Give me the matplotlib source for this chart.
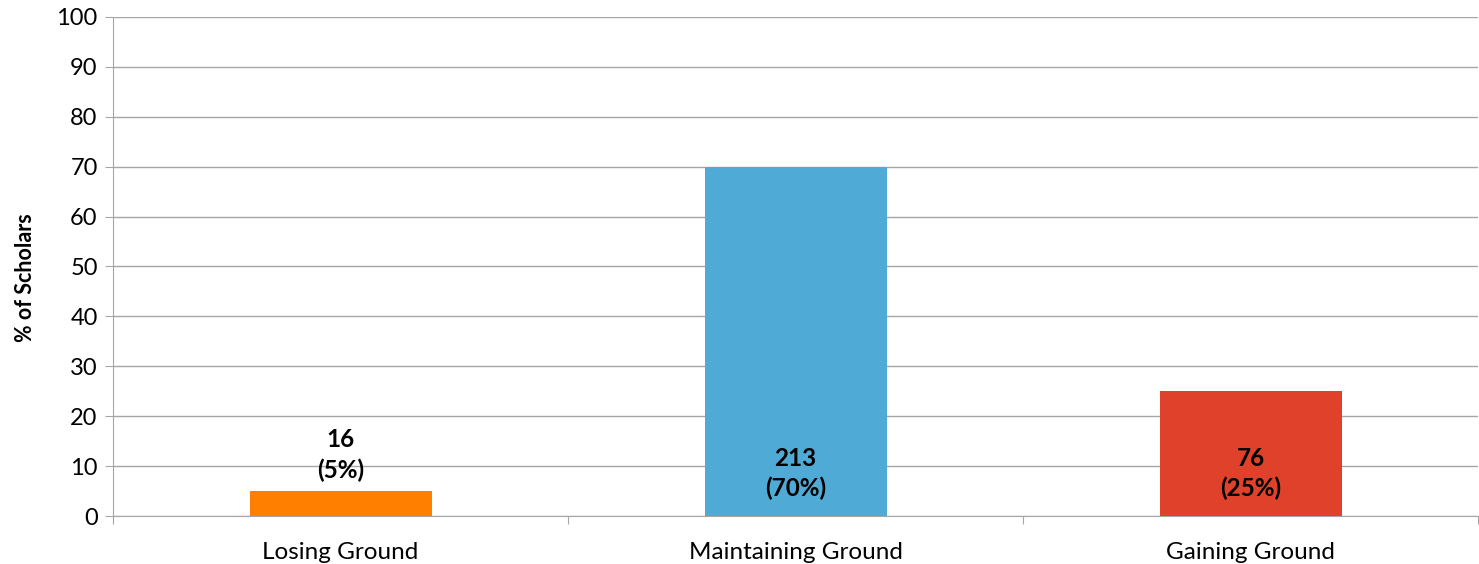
import matplotlib.pyplot as plt

categories = ["Losing Ground", "Maintaining Ground", "Gaining Ground"]
percent = [5, 70, 25]
counts = [16, 213, 76]
bar_colors = ["#FF8000", "#4FAAD6", "#E0412A"]
# where the number labels sit (data units, middle of the two lines)
label_y = [12.2, 8.5, 8.5]

plt.rcParams['font.family'] = ['Lato', 'DejaVu Sans']

fig = plt.figure(figsize=(14.79, 5.64), dpi=100)
ax = fig.add_axes([0.0764, 0.0851, 0.9230, 0.8848])

x = range(len(categories))
ax.bar(x, percent, width=0.4, color=bar_colors, zorder=3)

for i in x:
    ax.text(i, label_y[i], f"{counts[i]}\n({percent[i]}%)", ha="center", va="center",
            fontsize=17.5, fontweight="bold", linespacing=1.35, zorder=4)

ax.set_xlim(-0.5, 2.5)
ax.set_ylim(0, 100)
ax.set_yticks(range(0, 101, 10))
ax.yaxis.grid(True, color="#A6A6A6", linewidth=1, zorder=0)
ax.tick_params(axis="y", labelsize=17, length=6, color="#A6A6A6", pad=5)

ax.set_xticks([-0.5, 0.5, 1.5, 2.5])
ax.set_xticklabels([])
ax.set_xticks(list(x), minor=True)
ax.set_xticklabels(categories, minor=True, fontsize=17.5)
ax.tick_params(axis="x", which="major", length=6, color="#A6A6A6")
ax.tick_params(axis="x", which="minor", length=0, pad=19)

for side in ["top", "right"]:
    ax.spines[side].set_visible(False)
ax.spines["left"].set_color("#A6A6A6")
ax.spines["bottom"].set_color("#A6A6A6")

ax.set_ylabel("% of Scholars", fontsize=15.5, fontweight="bold", va="center")
ax.yaxis.set_label_coords(-0.064, 0.477)

fig.savefig("out.png", dpi=100)
